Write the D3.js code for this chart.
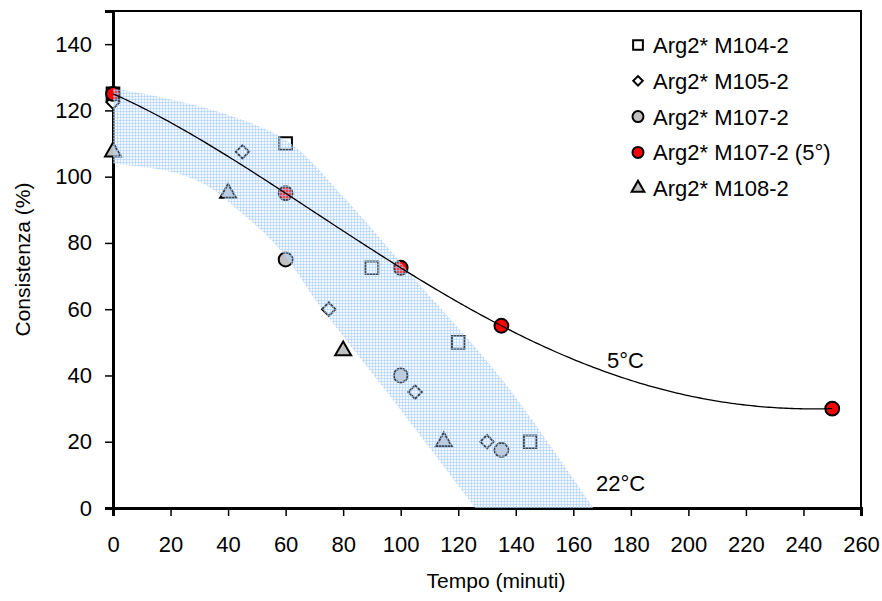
<!DOCTYPE html>
<html>
<head>
<meta charset="utf-8">
<script src="https://cdn.jsdelivr.net/npm/d3@7"></script>
<style>
  body { margin: 0; background: #fff; }
  text { font-family: "Liberation Sans", Arial, sans-serif; fill: #000; }
</style>
</head>
<body>
<div id="chart"></div>
<script>
// series values
const seriesNames = ["Arg2* M104-2", "Arg2* M105-2", "Arg2* M107-2", "Arg2* M107-2 (5°)", "Arg2* M108-2"];
const m104X = [0, 60, 90, 120, 145];
const m104Y = [125, 110, 72.5, 50, 20];
const m105X = [0, 45, 75, 105, 130];
const m105Y = [122.5, 107.5, 60, 35, 20];
const m107X = [60, 100, 135];
const m107Y = [75, 40, 17.5];
const m107coldX = [0, 60, 100, 135, 250];
const m107coldY = [125, 95, 72.5, 55, 30];
const m108X = [0, 40, 80, 115];
const m108Y = [107.5, 95, 47.5, 20];

// shaded 22°C band, edges
const bandTopX = [0, 15, 38, 61, 80, 107, 135, 167];
const bandTopY = [126.6, 124.3, 119.2, 110.5, 94, 67, 39, 0];
const bandLowX = [0, 13, 24, 34, 42, 50, 57, 64, 71, 97, 126];
const bandLowY = [104, 102.6, 100.6, 96.6, 91, 85, 79, 71, 62, 33, 0];

const xTicks = d3.range(0, 261, 20);
const yTicks = d3.range(0, 141, 20);

const width = 882, height = 601;
const svg = d3.select("#chart").append("svg")
    .attr("width", width).attr("height", height);

const x = d3.scaleLinear().domain([0, 260]).range([113, 861]);
const y = d3.scaleLinear().domain([0, 150]).range([508, 11]);

// grid pattern for the band
const defs = svg.append("defs");
const pat = defs.append("pattern")
    .attr("id", "grid").attr("width", 3).attr("height", 3)
    .attr("patternUnits", "userSpaceOnUse");
pat.append("rect").attr("width", 3).attr("height", 3).attr("fill", "rgba(214,231,252,0.3)");
pat.append("path").attr("d", "M0 0.5H3M0.5 0V3")
    .attr("stroke", "rgba(165,204,247,0.55)").attr("stroke-width", 1);

// frame
svg.append("rect")
    .attr("x", x(0)).attr("y", y(150))
    .attr("width", x(260) - x(0)).attr("height", y(0) - y(150))
    .attr("fill", "none").attr("stroke", "#000").attr("stroke-width", 2);

// axes
const xAxis = svg.append("g")
    .attr("transform", `translate(0,${y(0)})`)
    .call(d3.axisBottom(x).tickValues(xTicks).tickSize(8).tickPadding(20));
const yAxis = svg.append("g")
    .attr("transform", `translate(${x(0)},0)`)
    .call(d3.axisLeft(y).tickValues(yTicks).tickSize(8).tickPadding(13));
[xAxis, yAxis].forEach(a => {
    a.select(".domain").attr("stroke-width", 3);
    a.selectAll(".tick line").attr("stroke-width", 1.5);
    a.selectAll(".tick text").style("font-size", "22px");
});

svg.append("text")
    .attr("x", 496).attr("y", 588)
    .attr("text-anchor", "middle")
    .style("font-size", "21px")
    .text("Tempo (minuti)");
svg.append("text")
    .attr("transform", `translate(30,${(y(0) + y(150)) / 2}) rotate(-90)`)
    .attr("text-anchor", "middle")
    .style("font-size", "21px")
    .text("Consistenza (%)");

// markers
const sym = {
    square: d3.symbol().type(d3.symbolSquare).size(160),
    diamond: d3.symbol().type(d3.symbolSquare).size(90),
    circle: d3.symbol().type(d3.symbolCircle).size(150),
    triangle: d3.symbol().type(d3.symbolTriangle).size(110)
};
const series = [
    { xs: m104X, ys: m104Y, shape: "square", fill: "#fff" },
    { xs: m105X, ys: m105Y, shape: "diamond", fill: "#fff" },
    { xs: m107X, ys: m107Y, shape: "circle", fill: "#c0c0c0" },
    { xs: m108X, ys: m108Y, shape: "triangle", fill: "#c0c0c0" },
    { xs: m107coldX, ys: m107coldY, shape: "circle", fill: "#ff0000" }
];
const marks = svg.append("g");
series.forEach(s => {
    marks.selectAll(null)
        .data(s.xs.map((v, i) => [v, s.ys[i]]))
        .join("path")
        .attr("d", sym[s.shape])
        .attr("transform", d => `translate(${x(d[0])},${y(d[1])})${s.shape === "diamond" ? " rotate(45)" : ""}`)
        .attr("fill", s.fill)
        .attr("stroke", "#000")
        .attr("stroke-width", 2);
});

// band drawn over the markers
const edge = d3.line().x(d => x(d[0])).y(d => y(d[1])).curve(d3.curveCatmullRom);
const bandTop = bandTopX.map((v, i) => [v, bandTopY[i]]);
const bandLow = bandLowX.map((v, i) => [v, bandLowY[i]]).reverse();
svg.append("path")
    .attr("d", edge(bandTop) + edge(bandLow).replace(/^M/, "L") + "Z")
    .attr("fill", "url(#grid)");

// 5°C trend: 4th order polynomial trendline of the red points
function polyFit(xs, ys, deg) {
    const n = deg + 1;
    const A = Array.from({ length: n }, () => new Array(n + 1).fill(0));
    xs.forEach((xv, k) => {
        for (let i = 0; i < n; i++) {
            for (let j = 0; j < n; j++) A[i][j] += Math.pow(xv / 100, i + j);
            A[i][n] += ys[k] * Math.pow(xv / 100, i);
        }
    });
    for (let c = 0; c < n; c++) {
        let p = c;
        for (let r = c + 1; r < n; r++) if (Math.abs(A[r][c]) > Math.abs(A[p][c])) p = r;
        [A[c], A[p]] = [A[p], A[c]];
        for (let r = 0; r < n; r++) {
            if (r === c) continue;
            const f = A[r][c] / A[c][c];
            for (let k = c; k <= n; k++) A[r][k] -= f * A[c][k];
        }
    }
    const coef = A.map((row, i) => row[n] / row[i]);
    return t => coef.reduce((s, c, i) => s + c * Math.pow(t / 100, i), 0);
}
const trendFn = polyFit(m107coldX, m107coldY, 4);
const trend = d3.range(0, 250.5, 1).map(t => [t, trendFn(t)]);
svg.append("path")
    .attr("d", d3.line().x(d => x(d[0])).y(d => y(d[1]))(trend))
    .attr("fill", "none").attr("stroke", "#000").attr("stroke-width", 1.3);

svg.append("text").attr("x", 607).attr("y", 368).style("font-size", "22px").text("5°C");
svg.append("text").attr("x", 596).attr("y", 491).style("font-size", "22px").text("22°C");

// legend
const legendShapes = ["square", "diamond", "circle", "circle", "triangle"];
const legendFills = ["#fff", "#fff", "#c0c0c0", "#ff0000", "#c0c0c0"];
const legend = svg.append("g").selectAll("g")
    .data(seriesNames)
    .join("g")
    .attr("transform", (d, i) => `translate(638,${45 + i * 35.8})`);
legend.append("path")
    .attr("d", (d, i) => d3.symbol().type(legendShapes[i] === "circle" ? d3.symbolCircle : legendShapes[i] === "triangle" ? d3.symbolTriangle : d3.symbolSquare)
        .size(legendShapes[i] === "diamond" ? 45 : legendShapes[i] === "triangle" ? 70 : 95)())
    .attr("transform", (d, i) => legendShapes[i] === "diamond" ? "rotate(45)" : null)
    .attr("fill", (d, i) => legendFills[i])
    .attr("stroke", "#000").attr("stroke-width", 2);
legend.append("text")
    .attr("x", 15).attr("y", 8)
    .style("font-size", "22px")
    .text(d => d);
</script>
</body>
</html>
